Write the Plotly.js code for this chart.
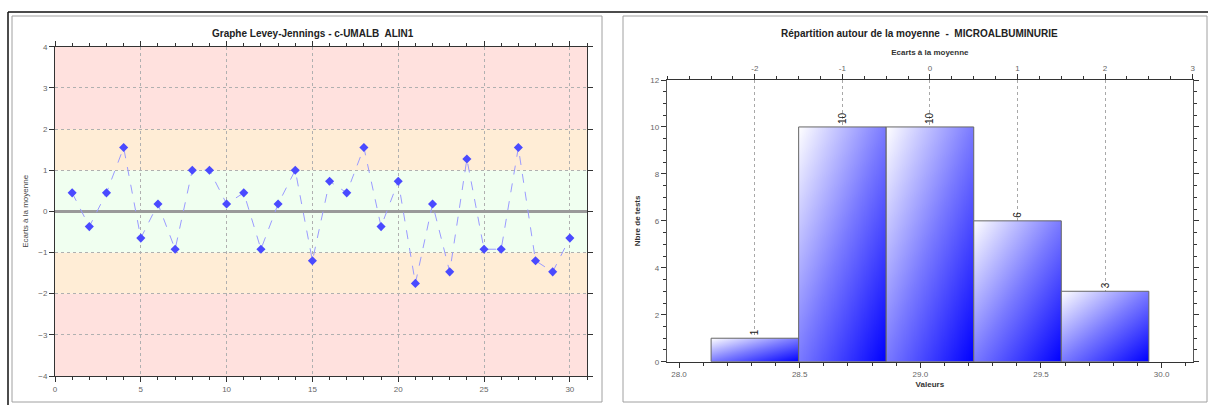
<!DOCTYPE html>
<html>
<head>
<meta charset="utf-8">
<script src="https://cdn.plot.ly/plotly-3.0.1.min.js"></script>
<style>
  html, body { margin: 0; padding: 0; background: #ffffff; }
  #chart { width: 1208px; height: 405px; }
</style>
</head>
<body>
<div id="chart"></div>
<script>
// ---------- data ----------
// Levey-Jennings: run number and deviation from the mean (in SD units)
const runs = [1,2,3,4,5,6,7,8,9,10,11,12,13,14,15,16,17,18,19,20,21,22,23,24,25,26,27,28,29,30];
const ecarts = [0.45,-0.37,0.45,1.55,-0.65,0.18,-0.92,1.0,1.0,0.18,0.45,-0.92,0.18,1.0,-1.2,0.73,0.45,1.55,-0.37,0.73,-1.75,0.18,-1.47,1.27,-0.92,-0.92,1.55,-1.2,-1.47,-0.65];

// Histogram: classes (SD offset from the mean) and number of tests
const classesSD = [-2, -1, 0, 1, 2];
const nbreTests = [1, 10, 10, 6, 3];
const moyenne = 29.04;
const ecartType = 0.3628;

// Tick labels of the top axis (SD units)
const topTicks = [-2, -1, 0, 1, 2, 3];

// Control bands (SD limits)
const bandLimits = [-4, -2, -1, 1, 2, 4];
const bandColors = ['#ffe1de', '#ffedd6', '#f0fff0', '#ffedd6', '#ffe1de'];

// ---------- geometry helpers ----------
const W = 1208, H = 405;
const px = v => v / W;
const py = v => 1 - v / H;

const FONT = 'Liberation Sans, Arial, sans-serif';
const tickFont = {family: FONT, size: 8, color: '#666'};

const xRange2 = [27.949, 30.13];
const xRange3 = xRange2.map(v => (v - moyenne) / ecartType);

// ---------- traces ----------
const ljTrace = {
  type: 'scatter', mode: 'lines+markers',
  x: runs, y: ecarts, xaxis: 'x', yaxis: 'y',
  line: {color: '#9a9aff', width: 1, dash: 'dash'},
  marker: {symbol: 'diamond', size: 7, color: '#4a4aff'},
  hoverinfo: 'x+y', showlegend: false
};

const histTrace = {
  type: 'bar',
  x: classesSD.map(k => moyenne + k * ecartType),
  y: nbreTests,
  width: classesSD.map(() => ecartType),
  xaxis: 'x2', yaxis: 'y2',
  text: nbreTests.map(String),
  textposition: 'outside', textangle: -90,
  textfont: {family: FONT, size: 10, color: '#222'},
  cliponaxis: false,
  marker: {color: '#7070ff', line: {color: '#666', width: 1}},
  showlegend: false
};

// invisible trace bound to the top axis so it gets drawn
const topTrace = {
  type: 'scatter', mode: 'markers',
  x: classesSD, y: classesSD.map(() => null),
  xaxis: 'x3', yaxis: 'y2', showlegend: false, hoverinfo: 'skip'
};

// ---------- shapes ----------
const shapes = [];
for (let i = 0; i < bandColors.length; i++) {
  shapes.push({
    type: 'rect', xref: 'x', yref: 'y', layer: 'below',
    x0: 0, x1: 31, y0: bandLimits[i], y1: bandLimits[i + 1],
    fillcolor: bandColors[i], line: {width: 0}
  });
}
// panel frames
shapes.push({type: 'rect', xref: 'paper', yref: 'paper', x0: px(12), x1: px(602), y0: py(402), y1: py(16), line: {color: '#a0a0a0', width: 1}});
shapes.push({type: 'rect', xref: 'paper', yref: 'paper', x0: px(623), x1: px(1207), y0: py(402), y1: py(16), line: {color: '#a0a0a0', width: 1}});
shapes.push({type: 'line', xref: 'paper', yref: 'paper', x0: px(8), x1: px(1208), y0: py(12), y1: py(12), line: {color: '#111', width: 1.5}});
shapes.push({type: 'line', xref: 'paper', yref: 'paper', x0: px(8), x1: px(8), y0: py(12), y1: py(405), line: {color: '#111', width: 1.5}});

// ---------- layout ----------
const layout = {
  width: W, height: H,
  margin: {l: 0, r: 0, t: 0, b: 0},
  paper_bgcolor: '#ffffff', plot_bgcolor: 'rgba(0,0,0,0)',
  font: {family: FONT, size: 8, color: '#444'},
  separators: '.,',
  showlegend: false,
  xaxis: {
    domain: [px(55), px(587)], anchor: 'y', range: [0, 31],
    tick0: 0, dtick: 5, ticks: 'outside', ticklen: 5, tickcolor: '#333',
    minor: {dtick: 1, ticks: 'outside', ticklen: 3, tickcolor: '#333', showgrid: false},
    showline: true, linecolor: '#333', linewidth: 1, mirror: 'ticks',
    showgrid: true, gridcolor: '#b0b0b0', griddash: 'dot', gridwidth: 1,
    zeroline: false, tickfont: tickFont
  },
  yaxis: {
    domain: [py(376), py(46.7)], anchor: 'x', range: [-4, 4],
    dtick: 1, ticks: 'outside', ticklen: 5, tickcolor: '#333',
    showline: true, linecolor: '#333', linewidth: 1, mirror: 'ticks',
    showgrid: true, gridcolor: '#b0b0b0', griddash: 'dot', gridwidth: 1,
    zeroline: true, zerolinecolor: '#9a9a9a', zerolinewidth: 2.5,
    tickfont: tickFont,
    title: {text: 'Ecarts à la moyenne', font: {family: FONT, size: 8, color: '#444'}, standoff: 8}
  },
  xaxis2: {
    domain: [px(666.7), px(1193)], anchor: 'y2', range: xRange2,
    tick0: 28, dtick: 0.5, tickformat: '.1f', ticks: 'outside', ticklen: 5, tickcolor: '#333',
    minor: {dtick: 0.1, ticks: 'outside', ticklen: 3, tickcolor: '#333', showgrid: false},
    showline: true, linecolor: '#333', linewidth: 1,
    showgrid: false, zeroline: false, tickfont: tickFont,
    title: {text: 'Valeurs', font: {family: FONT, size: 8, color: '#333', weight: 'bold'}, standoff: 3}
  },
  xaxis3: {
    overlaying: 'x2', side: 'top', anchor: 'y2', range: xRange3,
    tickmode: 'array', tickvals: topTicks, ticktext: topTicks.map(String),
    ticks: 'outside', ticklen: 5, tickcolor: '#333',
    minor: {dtick: 0.25, tick0: 0, ticks: 'outside', ticklen: 3, tickcolor: '#333', showgrid: false},
    showline: true, linecolor: '#333', linewidth: 1,
    showgrid: true, gridcolor: '#a8a8a8', griddash: 'dot', gridwidth: 1,
    zeroline: false, tickfont: tickFont,
    title: {text: 'Ecarts à la moyenne', font: {family: FONT, size: 8, color: '#333', weight: 'bold'}, standoff: 6}
  },
  yaxis2: {
    domain: [py(361.7), py(80)], anchor: 'x2', range: [0, 12],
    dtick: 2, ticks: 'outside', ticklen: 5, tickcolor: '#333',
    minor: {dtick: 0.5, ticks: 'outside', ticklen: 3, tickcolor: '#333', showgrid: false},
    showline: true, linecolor: '#555', linewidth: 1, mirror: 'ticks',
    showgrid: false, zeroline: false, tickfont: tickFont,
    title: {text: 'Nbre de tests', font: {family: FONT, size: 8, color: '#333', weight: 'bold'}, standoff: 8}
  },
  shapes: shapes,
  annotations: [
    {xref: 'paper', yref: 'paper', x: px(313), y: py(34), text: '<b>Graphe Levey-Jennings - c-UMALB  ALIN1</b>',
     showarrow: false, xanchor: 'center', yanchor: 'middle', font: {family: FONT, size: 10, color: '#222'}},
    {xref: 'paper', yref: 'paper', x: px(919), y: py(33), text: '<b>Répartition autour de la moyenne  -  MICROALBUMINURIE</b>',
     showarrow: false, xanchor: 'center', yanchor: 'middle', font: {family: FONT, size: 10, color: '#222'}}
  ]
};

Plotly.newPlot('chart', [ljTrace, histTrace, topTrace], layout, {displayModeBar: false, staticPlot: true}).then(gd => {
  // diagonal white-to-blue gradient on the histogram bars
  const svgNS = 'http://www.w3.org/2000/svg';
  const defs = gd.querySelector('svg.main-svg defs');
  const grad = document.createElementNS(svgNS, 'linearGradient');
  grad.setAttribute('id', 'barGrad');
  grad.setAttribute('x1', '0'); grad.setAttribute('y1', '0');
  grad.setAttribute('x2', '1'); grad.setAttribute('y2', '1');
  [['0%', '#ffffff'], ['50%', '#7a7aff'], ['100%', '#0000ff']].forEach(([o, c]) => {
    const s = document.createElementNS(svgNS, 'stop');
    s.setAttribute('offset', o); s.setAttribute('stop-color', c);
    grad.appendChild(s);
  });
  defs.appendChild(grad);
  gd.querySelectorAll('.barlayer .point path').forEach(p => { p.style.fill = 'url(#barGrad)'; });
});
</script>
</body>
</html>
